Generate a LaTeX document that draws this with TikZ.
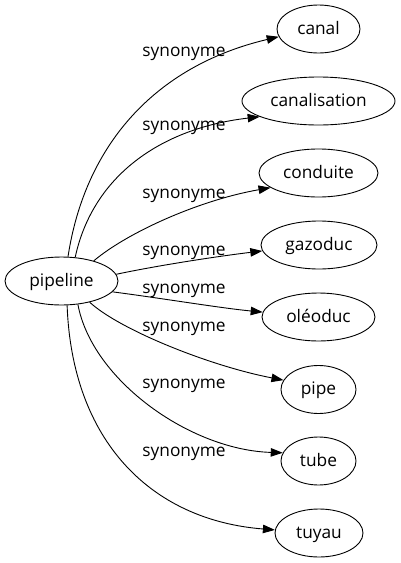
\documentclass[tikz,border=0pt]{standalone}
\usepackage{fontspec}
\setmainfont{Open Sans}
\usepackage{tikz}
\usetikzlibrary{shapes,arrows.meta,positioning}

\begin{document}
\begin{tikzpicture}[x=1pt, y=-1pt,
        word/.style={draw, ellipse, line width=0.9pt, inner sep=0pt, minimum height=48pt,
            text height=12pt, text depth=2pt, font=\fontsize{17.3}{20}\selectfont},
        rel/.style={anchor=base, inner sep=0pt, font=\fontsize{17.3}{20}\selectfont},
        syn/.style={line width=0.9pt, -{Triangle[length=12pt, width=8.5pt]}}]
        % Frame
        \useasboundingbox (0,0) rectangle (400,563);

        % Source word
        \node[word, minimum width=113pt] (pipeline) at (61.5,281) {pipeline};

        % Synonyms
        \node[word, minimum width=83pt] (canal) at (318.5,29) {canal};
        \node[word, minimum width=153pt] (canalisation) at (318.5,101) {canalisation};
        \node[word, minimum width=119pt] (conduite) at (318.5,173) {conduite};
        \node[word, minimum width=116pt] (gazoduc) at (319,245) {gazoduc};
        \node[word, minimum width=113pt] (oleoduc) at (318.5,317) {oléoduc};
        \node[word, minimum width=75pt] (pipe) at (318.5,389.5) {pipe};
        \node[word, minimum width=75pt] (tube) at (318.5,461) {tube};
        \node[word, minimum width=88pt] (tuyau) at (319,533) {tuyau};

        % Links
        \draw[syn] (pipeline.75) .. controls (85,145) and (155,66) .. (canal.191);
        \draw[syn] (pipeline.60) .. controls (93,175) and (162,128) .. (canalisation.195);
        \draw[syn] (pipeline.32) .. controls (128,232) and (200,200) .. (conduite.197);
        \draw[syn] (pipeline.7) .. controls (160,265) and (220,256) .. (gazoduc.186);
        \draw[syn] (pipeline.-12) .. controls (160,298) and (220,308) .. (oleoduc.175);
        \draw[syn] (pipeline.-37) .. controls (120,330) and (210,366) .. (pipe.165);
        \draw[syn] (pipeline.-55) .. controls (92,380) and (190,450) .. (tube.167);
        \draw[syn] (pipeline.-77) .. controls (72,440) and (150,520) .. (tuyau.176);

        % Link labels
        \node[rel] (lcanal) at (184,56) {synonyme};
        \node[rel] (lcanalisation) at (184,130.5) {synonyme};
        \node[rel] (lconduite) at (184,198) {synonyme};
        \node[rel] (lgazoduc) at (184,255.5) {synonyme};
        \node[rel] (loleoduc) at (184,293) {synonyme};
        \node[rel] (lpipe) at (184,331) {synonyme};
        \node[rel] (ltube) at (184,388) {synonyme};
        \node[rel] (ltuyau) at (184,456) {synonyme};
    \end{tikzpicture}
\end{document}
